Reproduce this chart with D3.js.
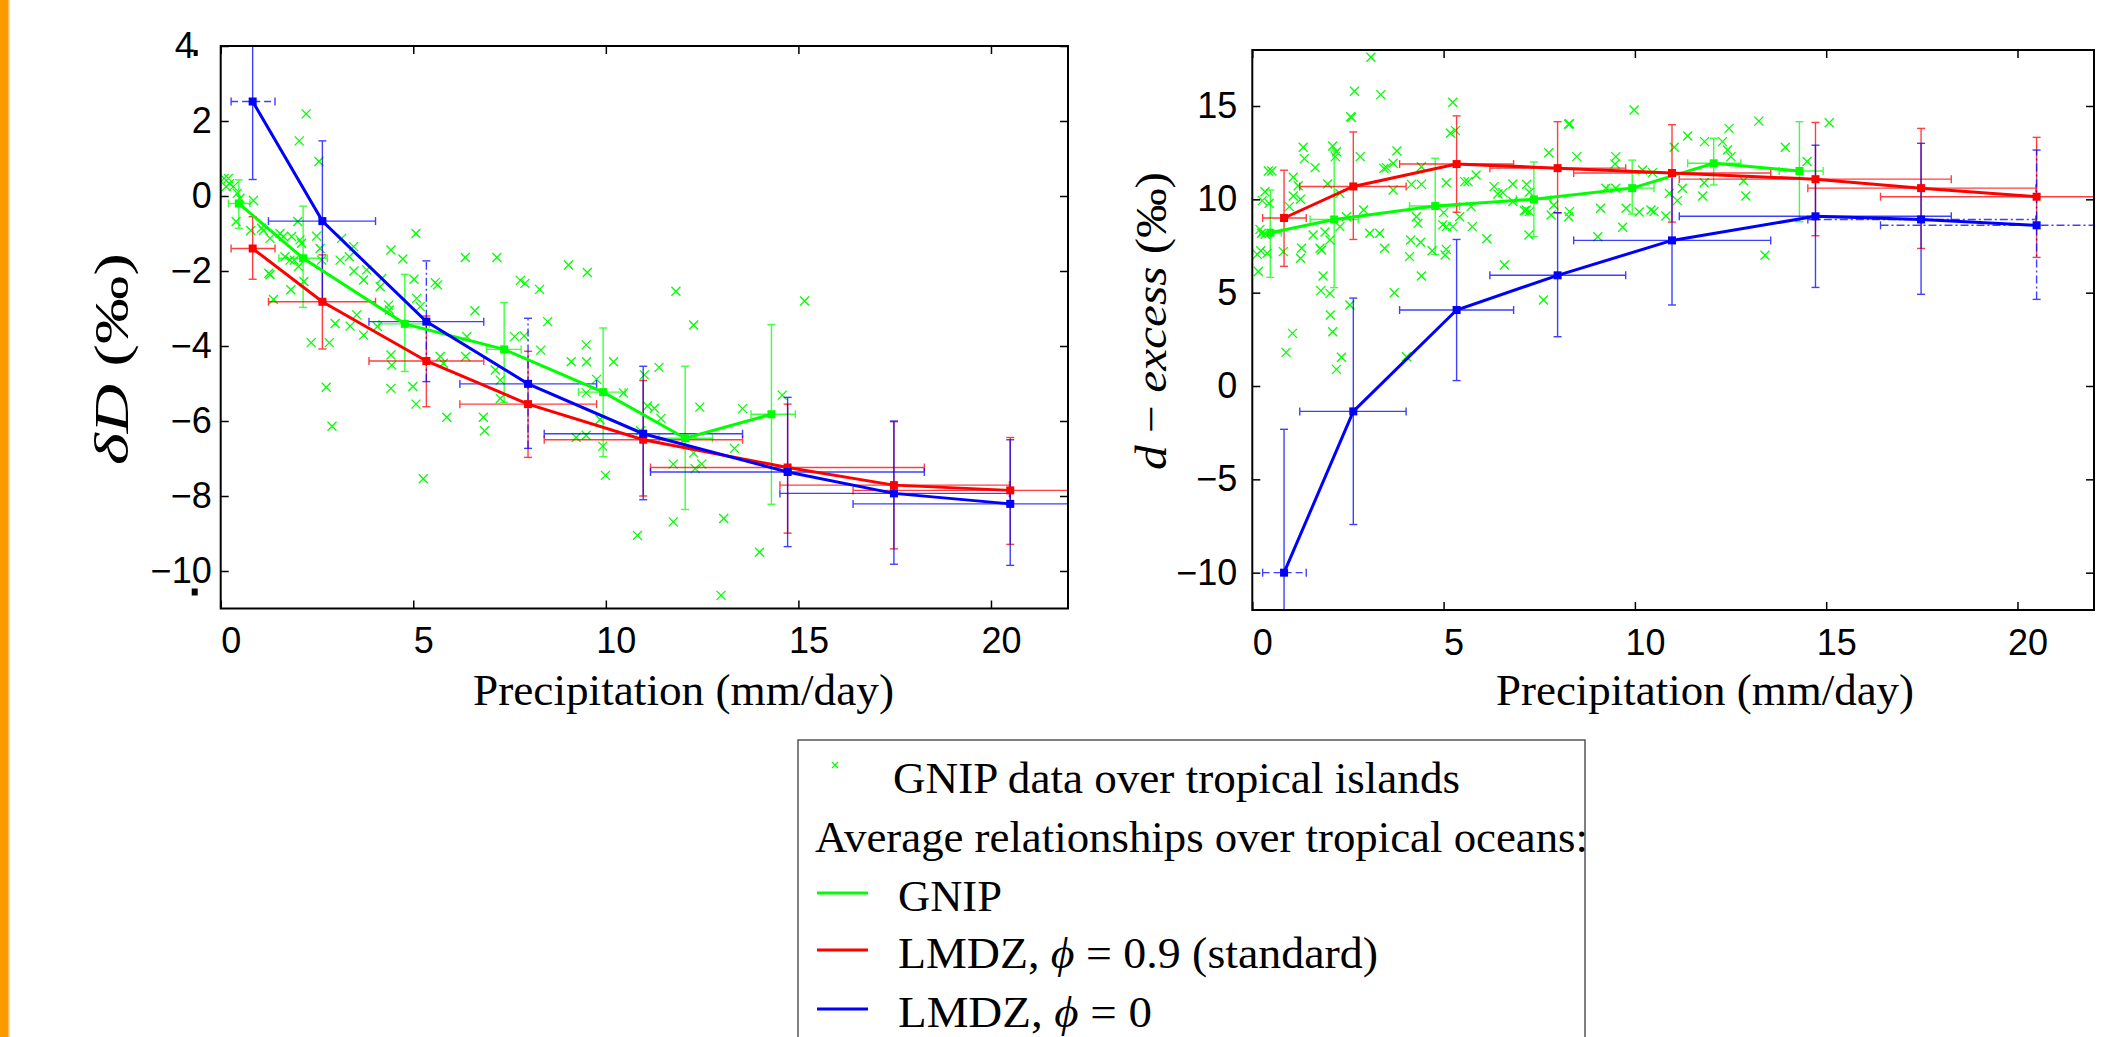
<!DOCTYPE html>
<html>
<head>
<meta charset="utf-8">
<script src="https://cdn.jsdelivr.net/npm/d3@7"></script>
<style>
  body { margin: 0; background: #fff; }
  svg { display: block; }
  .tick text { font-family: "Liberation Sans", Arial, sans-serif; font-size: 36px; fill: #000; }
  .serif { font-family: "Liberation Serif", "Times New Roman", serif; fill: #000; }
</style>
</head>
<body>
<svg width="2106" height="1037"></svg>
<script>
// precipitation classes (mm/day), shared by the two LMDZ runs
const precipLMDZ   = [0.83, 2.64, 5.34, 7.98, 10.97, 14.72, 17.48, 20.5];
const precipLMDZLo = [0.27, 1.24, 3.85, 6.21, 8.40, 11.16, 14.52, 16.42];
const precipLMDZHi = [1.41, 4.02, 6.83, 9.76, 13.55, 18.27, 20.48, 23.5];
// precipitation classes for the GNIP averages
const precipGNIP   = [0.47, 2.14, 4.78, 7.36, 9.93, 12.06, 14.30];
const precipGNIPLo = [0.20, 1.51, 4.11, 6.90, 9.29, 11.38, 13.77];
const precipGNIPHi = [0.76, 2.77, 5.42, 7.80, 10.50, 12.77, 14.92];

// deltaD panel
const dDGnip   = [-0.20, -1.66, -3.41, -4.09, -5.23, -6.46, -5.82];
const dDGnipLo = [-0.86, -2.97, -4.68, -5.50, -6.95, -8.36, -8.22];
const dDGnipHi = [0.43, -0.27, -2.09, -2.84, -3.52, -4.54, -3.43];
const dDStd    = [-1.40, -2.82, -4.40, -5.55, -6.50, -7.24, -7.71, -7.85];
const dDStdLo  = [-2.22, -4.08, -5.62, -6.97, -8.00, -8.99, -9.41, -9.29];
const dDStdHi  = [-0.55, -1.57, -3.20, -4.14, -4.92, -5.55, -6.02, -6.44];
const dDPhi0   = [2.52, -0.67, -3.35, -5.01, -6.34, -7.36, -7.93, -8.21];
const dDPhi0Lo = [0.44, -2.80, -4.95, -6.73, -8.10, -9.35, -9.82, -9.85];
const dDPhi0Hi = [4.60, 1.47, -1.73, -3.26, -4.54, -5.37, -6.00, -6.50];

// d-excess panel
const dxGnip   = [8.21, 8.92, 9.64, 10.00, 10.60, 11.93, 11.52];
const dxGnipLo = [5.82, 5.27, 7.05, 8.00, 9.21, 10.77, 8.80];
const dxGnipHi = [10.50, 12.59, 12.20, 12.00, 12.10, 13.27, 14.16];
const dxStd    = [9.00, 10.69, 11.89, 11.67, 11.41, 11.08, 10.60, 10.14];
const dxStdLo  = [6.41, 7.85, 9.31, 9.28, 8.78, 8.05, 7.37, 6.89];
const dxStdHi  = [11.56, 13.61, 14.47, 14.16, 14.00, 14.12, 13.80, 13.32];
const dxPhi0   = [-10.0, -1.36, 4.07, 5.93, 7.80, 9.09, 8.92, 8.61];
const dxPhi0Lo = [-17.7, -7.42, 0.29, 2.64, 4.34, 5.28, 4.91, 4.64];
const dxPhi0Hi = [-2.32, 4.71, 7.85, 9.28, 11.26, 12.90, 13.00, 12.64];

// GNIP stations over tropical islands: [precipitation, deltaD]
const islandsDD = [
  [2.22, 2.19], [2.04, 1.47], [2.55, 0.92], [0.09, 0.47], [0.20, 0.47], [0.23, 0.33], [0.14, 0.25],
  [0.33, 0.25], [0.43, 0.07], [0.50, -0.06], [0.85, -0.12], [0.40, -0.68], [0.78, -0.92], [1.06, -0.86],
  [1.11, -0.92], [1.28, -1.13], [1.54, -1.00], [1.63, -1.08], [1.84, -1.08], [2.00, -0.68], [2.06, -1.17],
  [2.10, -1.26], [1.67, -1.62], [1.80, -1.71], [1.91, -1.71], [2.02, -1.88], [1.25, -2.06], [1.28, -2.10],
  [1.82, -2.50], [1.37, -2.76], [2.16, -2.28], [2.49, -1.07], [2.58, -1.40], [2.62, -1.71], [3.14, -1.13],
  [3.45, -1.35], [3.10, -1.71], [3.34, -1.62], [3.46, -2.00], [3.79, -1.97], [3.71, -2.24], [4.18, -2.20],
  [4.14, -2.42], [4.42, -1.44], [4.73, -1.68], [5.07, -1.00], [5.02, -2.22], [5.09, -2.73], [5.18, -2.95],
  [5.57, -2.31], [5.63, -2.37], [4.36, -2.91], [4.38, -3.04], [3.53, -3.17], [2.97, -3.40], [3.36, -3.47],
  [3.71, -3.71], [4.07, -3.48], [2.35, -3.91], [2.82, -3.91], [2.74, -5.10], [4.42, -4.24], [4.44, -4.51],
  [4.42, -5.13], [4.99, -5.08], [5.07, -5.55], [5.70, -4.28], [5.78, -4.46], [6.36, -4.28], [6.39, -3.75],
  [6.60, -3.06], [6.35, -1.64], [7.17, -1.64], [7.63, -3.75], [7.88, -3.73], [7.78, -2.25], [7.90, -2.33],
  [8.28, -2.49], [8.31, -4.11], [8.49, -3.35], [9.03, -1.84], [9.52, -2.04], [9.10, -4.42], [9.50, -4.42],
  [9.49, -3.97], [7.13, -4.64], [7.26, -4.91], [7.26, -5.40], [5.87, -5.90], [6.82, -5.90], [2.89, -6.14],
  [5.26, -7.54], [6.85, -6.26], [9.23, -6.44], [9.49, -6.38], [9.92, -6.67], [9.99, -7.45], [9.76, -4.89],
  [9.49, -5.25], [9.85, -5.96], [10.20, -4.42], [10.46, -5.25], [11.00, -4.77], [11.38, -4.57], [11.08, -5.60],
  [11.26, -5.66], [11.43, -5.93], [10.90, -6.26], [11.82, -2.54], [12.28, -3.44], [12.44, -5.63], [12.28, -6.85],
  [12.49, -7.15], [12.32, -7.27], [11.75, -7.15], [13.34, -6.73], [13.55, -5.67], [11.75, -8.69], [10.82, -9.05],
  [13.06, -8.60], [13.99, -9.50], [14.58, -5.31], [12.99, -10.65], [15.16, -2.80]
];

// GNIP stations over tropical islands: [precipitation, d-excess]
const islandsDx = [
  [3.10, 17.61], [2.67, 15.79], [3.36, 15.61], [2.57, 14.43], [2.59, 14.39], [5.24, 15.20], [5.18, 13.54],
  [5.31, 13.68], [9.98, 14.79], [8.27, 14.02], [8.29, 14.05], [12.46, 13.80], [11.38, 13.39], [11.82, 13.09],
  [12.29, 13.09], [11.03, 12.79], [12.42, 12.64], [12.51, 12.29], [1.33, 12.79], [2.10, 12.86], [2.17, 12.29],
  [1.36, 12.18], [2.82, 12.29], [3.78, 12.59], [1.64, 11.70], [2.20, 12.55], [0.42, 11.52], [0.51, 11.52],
  [7.75, 12.50], [8.48, 12.29], [9.50, 12.29], [9.48, 11.89], [3.44, 11.66], [3.68, 11.93], [3.51, 11.70],
  [4.42, 11.75], [0.33, 10.41], [0.44, 9.79], [1.07, 11.18], [1.20, 10.73], [1.26, 10.00], [1.07, 10.18],
  [0.97, 9.61], [1.97, 10.82], [2.29, 10.32], [2.91, 9.43], [3.68, 10.50], [4.16, 10.80], [4.42, 10.80],
  [5.07, 10.89], [5.55, 10.95], [5.64, 10.95], [5.85, 11.30], [6.32, 10.68], [6.81, 10.82], [7.17, 10.80],
  [7.24, 10.38], [6.42, 10.29], [6.55, 10.36], [9.24, 10.59], [9.50, 10.59], [10.20, 11.57], [10.46, 11.43],
  [11.24, 10.59], [11.77, 10.18], [11.81, 10.89], [10.11, 9.32], [10.42, 9.43], [10.50, 9.34], [9.77, 9.52],
  [9.10, 9.52], [10.90, 10.32], [11.11, 9.93], [10.81, 9.11], [7.88, 9.70], [7.16, 9.43], [7.11, 9.39],
  [7.24, 9.34], [7.81, 9.16], [8.27, 9.07], [8.29, 9.34], [6.81, 9.88], [4.29, 9.07], [4.33, 8.71],
  [5.00, 9.29], [4.98, 8.63], [5.07, 8.54], [5.24, 8.54], [5.42, 9.07], [5.75, 8.54], [5.72, 9.61],
  [6.13, 7.89], [3.07, 8.18], [3.33, 8.18], [3.46, 7.38], [2.29, 8.54], [2.46, 9.07], [1.59, 8.09],
  [1.90, 8.25], [2.03, 7.82], [1.77, 7.38], [1.81, 7.29], [1.29, 7.38], [1.26, 6.84], [0.81, 7.20],
  [0.20, 8.39], [0.24, 8.18], [0.13, 7.05], [0.22, 7.25], [0.39, 7.11], [0.16, 6.13], [4.14, 7.82],
  [4.40, 7.70], [4.11, 6.93], [4.42, 5.89], [5.07, 7.32], [5.04, 7.02], [4.70, 7.25], [6.59, 6.48],
  [7.61, 4.61], [9.03, 8.00], [9.68, 8.50], [7.23, 8.09], [1.85, 5.89], [1.79, 5.11], [2.03, 4.96],
  [2.04, 3.80], [2.10, 2.91], [2.33, 1.54], [2.20, 0.89], [2.55, 4.34], [1.05, 2.82], [0.88, 1.80],
  [3.71, 5.00], [4.03, 1.57], [13.24, 14.19], [15.08, 14.10], [13.93, 12.79], [14.50, 12.03], [13.40, 7.00],
  [12.90, 10.18], [12.84, 11.00], [0.26, 9.93], [0.34, 8.13]
];

const xTicks = [0, 5, 10, 15, 20];
const dDTicks = [-10, -8, -6, -4, -2, 0, 2, 4];
const dxTicks = [-10, -5, 0, 5, 10, 15];
const legendLabels = [
  "GNIP data over tropical islands",
  "Average relationships over tropical oceans:",
  "GNIP",
  "LMDZ, ",
  "LMDZ, "
];

const GREEN = "#00ff00", RED = "#ff0000", BLUE = "#0000ff";
const DASH = "7,4", DASHDOT = "8,3,2,3";

const svg = d3.select("svg");

// orange slide edge on the left
svg.append("rect").attr("x", 0).attr("y", 0).attr("width", 8).attr("height", 1037).attr("fill", "#ff9900");
svg.append("rect").attr("x", 8).attr("y", 0).attr("width", 1.5).attr("height", 1037).attr("fill", "#ffc266");

function panel(id, box, yDomain, yTicks, labelPad) {
  const x = d3.scaleLinear().domain([0, 22]).range([box.left, box.right]);
  const y = d3.scaleLinear().domain(yDomain).range([box.bottom, box.top]);
  const g = svg.append("g");

  g.append("clipPath").attr("id", id).append("rect")
    .attr("x", box.left).attr("y", box.top)
    .attr("width", box.right - box.left).attr("height", box.bottom - box.top);

  const bottom = g.append("g")
    .attr("transform", `translate(0,${box.bottom})`)
    .call(d3.axisBottom(x).tickValues(xTicks).tickSize(-8).tickPadding(19).tickFormat(d3.format("d")));
  bottom.selectAll("text").attr("dx", 10);
  g.append("g").attr("transform", `translate(0,${box.top})`)
    .call(d3.axisTop(x).tickValues(xTicks).tickSize(-8).tickFormat(""));
  const leftAxis = g.append("g").attr("transform", `translate(${box.left},0)`)
    .call(d3.axisLeft(y).tickValues(yTicks).tickSize(-8).tickPadding(labelPad));
  g.append("g").attr("transform", `translate(${box.right},0)`)
    .call(d3.axisRight(y).tickValues(yTicks).tickSize(-8).tickFormat(""));
  g.selectAll(".domain").remove();
  g.selectAll(".tick line").attr("stroke-width", 1.5);

  const plot = g.append("g").attr("clip-path", `url(#${id})`);
  return { x, y, g, plot, box, leftAxis };
}

function yErrors(p, xs, lo, hi, color, dashes) {
  xs.forEach((v, i) => {
    const px = p.x(v), a = p.y(lo[i]), b = p.y(hi[i]);
    const e = p.plot.append("g").attr("stroke", color).attr("stroke-width", 1.4).attr("opacity", 0.75);
    e.append("line").attr("x1", px).attr("x2", px).attr("y1", a).attr("y2", b)
      .attr("stroke-dasharray", dashes[i] || null);
    [a, b].forEach(c => e.append("line").attr("x1", px - 4).attr("x2", px + 4).attr("y1", c).attr("y2", c));
  });
}

function xErrors(p, ys, lo, hi, color, dashes) {
  ys.forEach((v, i) => {
    const py = p.y(v), a = p.x(lo[i]), b = p.x(hi[i]);
    const e = p.plot.append("g").attr("stroke", color).attr("stroke-width", 1.4).attr("opacity", 0.75);
    e.append("line").attr("x1", a).attr("x2", b).attr("y1", py).attr("y2", py)
      .attr("stroke-dasharray", dashes[i] || null);
    [a, b].forEach(c => e.append("line").attr("x1", c).attr("x2", c).attr("y1", py - 4).attr("y2", py + 4));
  });
}

function meanLine(p, xs, ys, color) {
  const pts = xs.map((v, i) => [v, ys[i]]);
  p.plot.append("path").datum(pts)
    .attr("fill", "none").attr("stroke", color).attr("stroke-width", 3)
    .attr("d", d3.line().x(d => p.x(d[0])).y(d => p.y(d[1])));
  p.plot.selectAll(null).data(pts).enter().append("rect")
    .attr("x", d => p.x(d[0]) - 4).attr("y", d => p.y(d[1]) - 4)
    .attr("width", 8).attr("height", 8).attr("fill", color);
}

function crosses(p, pts) {
  p.plot.selectAll(null).data(pts).enter().append("path")
    .attr("transform", d => `translate(${p.x(d[0])},${p.y(d[1])})`)
    .attr("d", "M-4.5,-4.5L4.5,4.5M-4.5,4.5L4.5,-4.5")
    .attr("stroke", GREEN).attr("stroke-width", 1.3).attr("fill", "none");
}

function frame(p) {
  p.g.append("rect")
    .attr("x", p.box.left).attr("y", p.box.top)
    .attr("width", p.box.right - p.box.left).attr("height", p.box.bottom - p.box.top)
    .attr("fill", "none").attr("stroke", "#000").attr("stroke-width", 2);
}

// ---- left panel: deltaD
const left = panel("clipL", { left: 220.7, right: 1068, top: 46, bottom: 608.5 }, [-11, 4], dDTicks, 9);
crosses(left, islandsDD);
yErrors(left, precipGNIP, dDGnipLo, dDGnipHi, GREEN, {});
xErrors(left, dDGnip, precipGNIPLo, precipGNIPHi, GREEN, {});
yErrors(left, precipLMDZ, dDStdLo, dDStdHi, RED, {});
xErrors(left, dDStd, precipLMDZLo, precipLMDZHi, RED, {});
yErrors(left, precipLMDZ, dDPhi0Lo, dDPhi0Hi, BLUE, { 2: DASHDOT, 3: DASHDOT });
xErrors(left, dDPhi0, precipLMDZLo, precipLMDZHi, BLUE, { 0: DASH });
meanLine(left, precipGNIP, dDGnip, GREEN);
meanLine(left, precipLMDZ, dDStd, RED);
meanLine(left, precipLMDZ, dDPhi0, BLUE);
frame(left);
// the top label carries a small square, and one more sits under the -10 label
left.leftAxis.selectAll(".tick").filter(d => d === 4).select("text").attr("dx", -17);
left.g.append("rect").attr("x", left.box.left - 27).attr("y", left.y(4) + 4).attr("width", 4).attr("height", 6).attr("fill", "#000");
left.g.append("rect").attr("x", left.box.left - 29).attr("y", left.y(-11) - 20).attr("width", 6).attr("height", 7).attr("fill", "#000");

// ---- right panel: d-excess
const right = panel("clipR", { left: 1252.3, right: 2094, top: 50, bottom: 610 }, [-12, 18], dxTicks, 15);
crosses(right, islandsDx);
yErrors(right, precipGNIP, dxGnipLo, dxGnipHi, GREEN, {});
xErrors(right, dxGnip, precipGNIPLo, precipGNIPHi, GREEN, {});
yErrors(right, precipLMDZ, dxStdLo, dxStdHi, RED, {});
xErrors(right, dxStd, precipLMDZLo, precipLMDZHi, RED, {});
yErrors(right, precipLMDZ, dxPhi0Lo, dxPhi0Hi, BLUE, { 7: DASHDOT });
xErrors(right, dxPhi0, precipLMDZLo, precipLMDZHi, BLUE, { 0: DASH, 6: DASHDOT, 7: DASHDOT });
meanLine(right, precipGNIP, dxGnip, GREEN);
meanLine(right, precipLMDZ, dxStd, RED);
meanLine(right, precipLMDZ, dxPhi0, BLUE);
frame(right);

// ---- axis titles
svg.append("text").attr("class", "serif").attr("x", 473).attr("y", 705)
  .attr("font-size", 44).attr("textLength", 421).attr("lengthAdjust", "spacingAndGlyphs")
  .text("Precipitation (mm/day)");
svg.append("text").attr("class", "serif").attr("x", 1496).attr("y", 705)
  .attr("font-size", 44).attr("textLength", 418).attr("lengthAdjust", "spacingAndGlyphs")
  .text("Precipitation (mm/day)");

const yl = svg.append("text").attr("class", "serif")
  .attr("transform", "translate(128,359) rotate(-90)")
  .attr("text-anchor", "middle").attr("font-size", 48)
  .attr("textLength", 212).attr("lengthAdjust", "spacingAndGlyphs");
yl.append("tspan").attr("font-style", "italic").text("δD");
yl.append("tspan").text(" (‰)");

const yr = svg.append("text").attr("class", "serif")
  .attr("transform", "translate(1166,321) rotate(-90)")
  .attr("text-anchor", "middle").attr("font-size", 44)
  .attr("textLength", 298).attr("lengthAdjust", "spacingAndGlyphs");
yr.append("tspan").attr("font-style", "italic").text("d");
yr.append("tspan").text(" − ");
yr.append("tspan").attr("font-style", "italic").text("excess");
yr.append("tspan").text(" (‰)");

// ---- legend
const lg = svg.append("g");
lg.append("rect").attr("x", 798).attr("y", 740).attr("width", 787).attr("height", 320)
  .attr("fill", "#fff").attr("stroke", "#555").attr("stroke-width", 1.5);
const rowY = [793, 852, 911, 968, 1027];
lg.append("path").attr("transform", `translate(835,${rowY[0] - 28})`)
  .attr("d", "M-3,-3L3,3M-3,3L3,-3").attr("stroke", GREEN).attr("stroke-width", 1.2);
lg.append("text").attr("class", "serif").attr("x", 893).attr("y", rowY[0]).attr("font-size", 44)
  .attr("textLength", 567).attr("lengthAdjust", "spacingAndGlyphs").text(legendLabels[0]);
lg.append("text").attr("class", "serif").attr("x", 815).attr("y", rowY[1]).attr("font-size", 44)
  .attr("textLength", 773).attr("lengthAdjust", "spacingAndGlyphs").text(legendLabels[1]);
[GREEN, RED, BLUE].forEach((c, i) => {
  lg.append("line").attr("x1", 817).attr("x2", 868)
    .attr("y1", rowY[i + 2] - 18).attr("y2", rowY[i + 2] - 18)
    .attr("stroke", c).attr("stroke-width", 3);
});
lg.append("text").attr("class", "serif").attr("x", 898).attr("y", rowY[2]).attr("font-size", 44)
  .attr("textLength", 104).attr("lengthAdjust", "spacingAndGlyphs").text(legendLabels[2]);
const l4 = lg.append("text").attr("class", "serif").attr("x", 898).attr("y", rowY[3]).attr("font-size", 44)
  .attr("textLength", 480).attr("lengthAdjust", "spacingAndGlyphs");
l4.append("tspan").text(legendLabels[3]);
l4.append("tspan").attr("font-style", "italic").text("ϕ");
l4.append("tspan").text(" = 0.9 (standard)");
const l5 = lg.append("text").attr("class", "serif").attr("x", 898).attr("y", rowY[4]).attr("font-size", 44)
  .attr("textLength", 254).attr("lengthAdjust", "spacingAndGlyphs");
l5.append("tspan").text(legendLabels[4]);
l5.append("tspan").attr("font-style", "italic").text("ϕ");
l5.append("tspan").text(" = 0");
</script>
</body>
</html>
